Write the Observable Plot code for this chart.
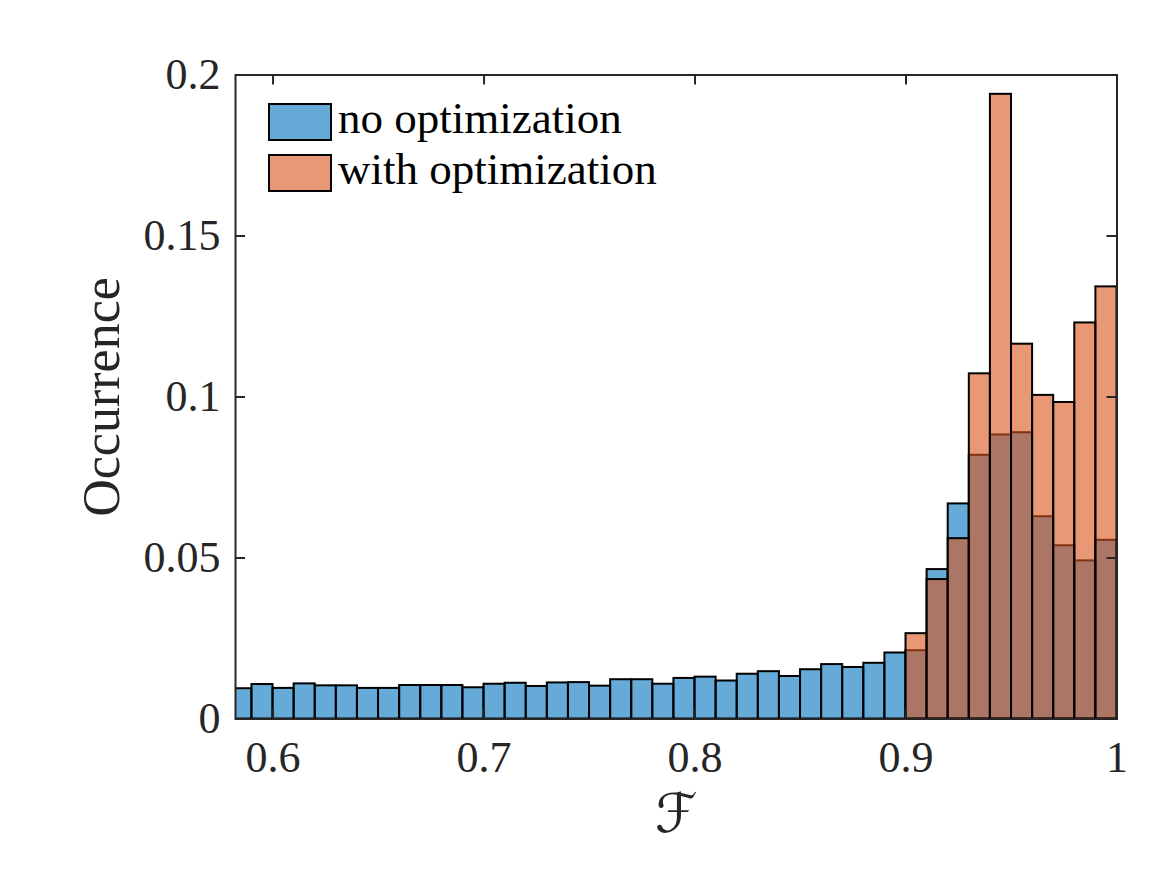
<!DOCTYPE html>
<html>
<head>
<meta charset="utf-8">
<script src="https://cdn.jsdelivr.net/npm/d3@7"></script>
<script src="https://cdn.jsdelivr.net/npm/@observablehq/plot@0.6"></script>
<style>
  html, body { margin: 0; padding: 0; background: #fff; }
  #wrap { position: relative; width: 1167px; height: 875px; }
  .legend { position: absolute; left: 268px; top: 103px; font-family: "Liberation Serif", serif; color: #000; }
  .row { position: relative; height: 51px; }
  .sw { position: absolute; left: 0; top: 0; width: 60px; height: 34px; border: 2px solid #000; }
  .lab { position: absolute; left: 70px; top: -7px; font-size: 45px; line-height: 44px; white-space: nowrap; }
</style>
</head>
<body>
<div id="wrap"></div>
<script>
// Histogram bins (lower edges, width 0.01) and normalised occurrence per bin
const binLo = [0.58, 0.59, 0.60, 0.61, 0.62, 0.63, 0.64, 0.65, 0.66, 0.67, 0.68, 0.69,
               0.70, 0.71, 0.72, 0.73, 0.74, 0.75, 0.76, 0.77, 0.78, 0.79, 0.80, 0.81,
               0.82, 0.83, 0.84, 0.85, 0.86, 0.87, 0.88, 0.89, 0.90, 0.91, 0.92, 0.93,
               0.94, 0.95, 0.96, 0.97, 0.98, 0.99];
const binWidth = 0.01;

const noOptimization = [0.0094, 0.0107, 0.0095, 0.0109, 0.0103, 0.0103, 0.0095, 0.0095,
                        0.0104, 0.0104, 0.0104, 0.0097, 0.0108, 0.0111, 0.0101, 0.0112,
                        0.0113, 0.0102, 0.0122, 0.0122, 0.0108, 0.0126, 0.0130, 0.0118,
                        0.0139, 0.0147, 0.0132, 0.0153, 0.0169, 0.0160, 0.0173, 0.0205,
                        0.0212, 0.0464, 0.0668, 0.0819, 0.0882, 0.0889, 0.0628, 0.0538,
                        0.0491, 0.0555];

const optBinLo = [0.90, 0.91, 0.92, 0.93, 0.94, 0.95, 0.96, 0.97, 0.98, 0.99];
const withOptimization = [0.0265, 0.0433, 0.0560, 0.1072, 0.1940, 0.1164, 0.1005,
                          0.0983, 0.1230, 0.1342];

const seriesNames = ["no optimization", "with optimization"];
const seriesColors = ["#0072BD", "#D95319"];

const xTicks = [0.6, 0.7, 0.8, 0.9, 1];
const xTickLabels = ["0.6", "0.7", "0.8", "0.9", "1"];
const yTicks = [0, 0.05, 0.1, 0.15, 0.2];
const yTickLabels = ["0", "0.05", "0.1", "0.15", "0.2"];

const xLabel = "\u2131";
const yLabel = "Occurrence";

const rowsA = binLo.map((lo, i) => ({lo, hi: lo + binWidth, p: noOptimization[i]}));
const rowsB = optBinLo.map((lo, i) => ({lo, hi: lo + binWidth, p: withOptimization[i]}));

const W = 1167, H = 875;
const mL = 235, mR = 50.5, mT = 74.5, mB = 156.5;
const innerW = W - mL - mR, innerH = H - mT - mB;
const axisColor = "#262626";
const serif = "'Liberation Serif', 'Times New Roman', serif";

const barOpts = (color) => ({
  x1: "lo", x2: "hi", y: "p",
  fill: color, fillOpacity: 0.6,
  stroke: "#000", strokeWidth: 2, clip: true
});

const chart = Plot.plot({
  width: W, height: H,
  marginLeft: mL, marginRight: mR, marginTop: mT, marginBottom: mB,
  x: {domain: [0.5822, 1]},
  y: {domain: [0, 0.2]},
  style: {fontFamily: serif, color: axisColor, background: "white"},
  marks: [
    Plot.rectY(rowsA, barOpts(seriesColors[0])),
    Plot.rectY(rowsB, barOpts(seriesColors[1])),
    Plot.axisX({ticks: xTicks, tickSize: 0, tickPadding: 22, fontSize: 44, label: null,
                tickFormat: d => xTickLabels[xTicks.indexOf(d)]}),
    Plot.axisY({ticks: yTicks, tickSize: 0, tickPadding: 15, fontSize: 44, label: null,
                tickFormat: d => yTickLabels[yTicks.indexOf(d)]}),
    // inward tick marks on all four sides of the box
    Plot.gridX(xTicks, {stroke: axisColor, strokeOpacity: 1, strokeWidth: 2, insetTop: innerH - 10}),
    Plot.gridX(xTicks, {stroke: axisColor, strokeOpacity: 1, strokeWidth: 2, insetBottom: innerH - 10}),
    Plot.gridY(yTicks, {stroke: axisColor, strokeOpacity: 1, strokeWidth: 2, insetRight: innerW - 10}),
    Plot.gridY(yTicks, {stroke: axisColor, strokeOpacity: 1, strokeWidth: 2, insetLeft: innerW - 10}),
    Plot.frame({stroke: axisColor, strokeWidth: 2}),
    Plot.text([yLabel], {text: d => d, frameAnchor: "left", rotate: -90, dx: -117,
                         lineAnchor: "bottom", textAnchor: "middle", fontSize: 52, fill: axisColor}),
    Plot.text([xLabel], {text: d => d, frameAnchor: "bottom", dy: 113, lineAnchor: "bottom",
                         textAnchor: "middle", fontSize: 54, fill: axisColor,
                         fontFamily: "'DejaVu Sans', sans-serif"})
  ]
});

const wrap = document.getElementById("wrap");
wrap.appendChild(chart);

// legend drawn over the axes, no surrounding box
const legend = document.createElement("div");
legend.className = "legend";
seriesNames.forEach((name, i) => {
  const row = document.createElement("div");
  row.className = "row";
  const sw = document.createElement("div");
  sw.className = "sw";
  const c = d3.color(seriesColors[i]);
  sw.style.background = `rgba(${c.r},${c.g},${c.b},0.6)`;
  const lab = document.createElement("div");
  lab.className = "lab";
  lab.textContent = name;
  row.appendChild(sw);
  row.appendChild(lab);
  legend.appendChild(row);
});
wrap.appendChild(legend);
</script>
</body>
</html>
